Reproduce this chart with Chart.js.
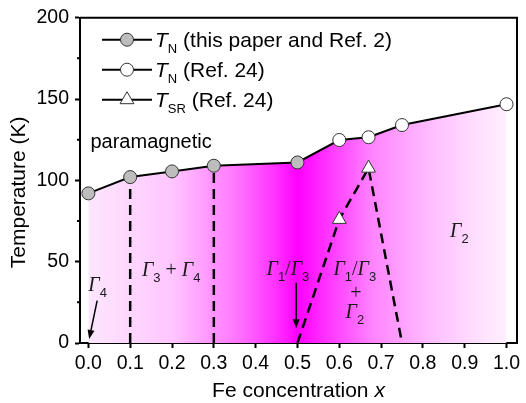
<!DOCTYPE html>
<html>
<head>
<meta charset="utf-8">
<script src="https://cdn.jsdelivr.net/npm/chart.js@4.4.0/dist/chart.umd.min.js"></script>
<style>
  html, body { margin: 0; padding: 0; background: #fff; }
</style>
</head>
<body>
<canvas id="phaseChart" width="526" height="403"></canvas>
<script>
// T_N from this work (and Ref. 2)
const xThisPaper = [0.0, 0.1, 0.2, 0.3, 0.5];
const tnThisPaper = [92, 102, 105.5, 109, 111];

// T_N from Ref. 24
const xRef24 = [0.6, 0.67, 0.75, 1.0];
const tnRef24 = [124.8, 126.5, 134, 146.8];

// spin-reorientation temperatures, Ref. 24
const xSR = [0.6, 0.67];
const tSR = [76, 107.5];

// dashed phase boundaries
const wall1X = [0.1, 0.1];
const wall1T = [0, 102];
const wall2X = [0.3, 0.3];
const wall2T = [0, 109];
const wedgeX = [0.5, 0.6, 0.67, 0.75];
const wedgeT = [0, 76, 107.5, 0];

const xTicks = [0.0, 0.1, 0.2, 0.3, 0.4, 0.5, 0.6, 0.7, 0.8, 0.9, 1.0];
const yTicks = [0, 50, 100, 150, 200];
const yMinorTicks = [25, 75, 125, 175];

const SANS = "'Liberation Sans', Arial, sans-serif";
const SERIF = "'Liberation Serif', 'Times New Roman', serif";

function pts(xs, ys) {
  return xs.map((x, i) => ({x: x, y: ys[i]}));
}

// whole paramagnetic boundary, used for the shaded region
const boundaryX = xThisPaper.concat(xRef24);
const boundaryT = tnThisPaper.concat(tnRef24);

function magentaFill(ctx) {
  const chart = ctx.chart;
  if (!chart.chartArea) return 'rgba(0,0,0,0)';
  const xs = chart.scales.x;
  const g = chart.ctx.createLinearGradient(xs.getPixelForValue(0), 0, xs.getPixelForValue(1), 0);
  g.addColorStop(0.00, '#fde6fd');
  g.addColorStop(0.20, '#ffc6ff');
  g.addColorStop(0.35, '#ff78ff');
  g.addColorStop(0.45, '#ff30ff');
  g.addColorStop(0.50, '#ff00ff');
  g.addColorStop(0.56, '#ff2cff');
  g.addColorStop(0.68, '#ff84ff');
  g.addColorStop(0.82, '#ffbeff');
  g.addColorStop(0.92, '#ffdcff');
  g.addColorStop(1.00, '#fff0ff');
  return g;
}

// mixed-font text runs: [text, font, dy]
function drawRuns(ctx, x, y, runs) {
  let cx = x;
  runs.forEach(r => {
    ctx.font = r[1];
    ctx.fillText(r[0], cx, y + (r[2] || 0));
    cx += ctx.measureText(r[0]).width;
  });
  return cx;
}

function runsWidth(ctx, runs) {
  let w = 0;
  runs.forEach(r => { ctx.font = r[1]; w += ctx.measureText(r[0]).width; });
  return w;
}

const G = 'italic 20px ' + SERIF;
const P = '20px ' + SERIF;
const SUB = '13px ' + SANS;

function gamma(n) {
  return [['\u0393', G, 0], [n, SUB, 6]];
}

// phase labels anchored at (x, T) = left baseline
const phaseLabels = [
  {x: 0.0, t: 32, runs: gamma('4')},
  {x: 0.128, t: 41.5, runs: gamma('3').concat([[' + ', P, 0]], gamma('4'))},
  {x: 0.426, t: 42, runs: gamma('1').concat([['/', P, 0]], gamma('3'))},
  {x: 0.586, t: 42, runs: gamma('1').concat([['/', P, 0]], gamma('3'))},
  {x: 0.626, t: 27, runs: [['+', P, 0]]},
  {x: 0.615, t: 15.3, runs: gamma('2')},
  {x: 0.865, t: 65.4, runs: gamma('2')}
];

const arrows = [
  {x0: 0.021, t0: 26, x1: 0.002, t1: 2.5},
  {x0: 0.497, t0: 37, x1: 0.497, t1: 9}
];

const legendRows = [
  {marker: 'circle', fill: '#bdbdbd', sub: 'N', text: ' (this paper and Ref. 2)'},
  {marker: 'circle', fill: '#ffffff', sub: 'N', text: ' (Ref. 24)'},
  {marker: 'triangle', fill: '#ffffff', sub: 'SR', text: ' (Ref. 24)'}
];

function drawMarker(ctx, kind, fill, x, y) {
  ctx.save();
  ctx.fillStyle = fill;
  ctx.strokeStyle = '#333';
  ctx.lineWidth = 1;
  ctx.beginPath();
  if (kind === 'circle') {
    ctx.arc(x, y, 6.5, 0, Math.PI * 2);
  } else {
    const r = 8;
    ctx.moveTo(x, y - r);
    ctx.lineTo(x + r * Math.sin(2 * Math.PI / 3), y - r * Math.cos(2 * Math.PI / 3));
    ctx.lineTo(x + r * Math.sin(4 * Math.PI / 3), y - r * Math.cos(4 * Math.PI / 3));
    ctx.closePath();
  }
  ctx.fill();
  ctx.stroke();
  ctx.restore();
}

const decorations = {
  id: 'decorations',
  afterDatasetsDraw(chart) {
    const {ctx, chartArea: a, scales: {x, y}} = chart;
    ctx.save();
    ctx.fillStyle = '#000';
    ctx.strokeStyle = '#000';

    // frame top and right
    ctx.lineWidth = 2;
    ctx.beginPath();
    ctx.moveTo(a.left, a.top);
    ctx.lineTo(a.right, a.top);
    ctx.lineTo(a.right, a.bottom);
    ctx.stroke();

    // minor y ticks
    ctx.beginPath();
    yMinorTicks.forEach(v => {
      const py = y.getPixelForValue(v);
      ctx.moveTo(a.left - 3, py);
      ctx.lineTo(a.left, py);
    });
    ctx.stroke();

    // phase names
    ctx.textBaseline = 'alphabetic';
    ctx.textAlign = 'left';
    ctx.fillStyle = '#1a1a1a';
    phaseLabels.forEach(l => {
      drawRuns(ctx, x.getPixelForValue(l.x), y.getPixelForValue(l.t), l.runs);
    });

    ctx.font = '20px ' + SANS;
    ctx.fillStyle = '#000';
    ctx.fillText('paramagnetic', x.getPixelForValue(0.005), y.getPixelForValue(120));

    // arrows
    ctx.lineWidth = 1.5;
    arrows.forEach(ar => {
      const x0 = x.getPixelForValue(ar.x0), y0 = y.getPixelForValue(ar.t0);
      const x1 = x.getPixelForValue(ar.x1), y1 = y.getPixelForValue(ar.t1);
      const ang = Math.atan2(y1 - y0, x1 - x0);
      const hl = 9, hw = 3.5;
      const bx = x1 - hl * Math.cos(ang), by = y1 - hl * Math.sin(ang);
      ctx.beginPath();
      ctx.moveTo(x0, y0);
      ctx.lineTo(bx, by);
      ctx.stroke();
      ctx.beginPath();
      ctx.moveTo(x1, y1);
      ctx.lineTo(bx + hw * Math.sin(ang), by - hw * Math.cos(ang));
      ctx.lineTo(bx - hw * Math.sin(ang), by + hw * Math.cos(ang));
      ctx.closePath();
      ctx.fill();
    });

    // legend
    legendRows.forEach((row, i) => {
      const cy = a.top + 22 + i * 30;
      const lx = a.left + 22;
      ctx.lineWidth = 2;
      ctx.beginPath();
      ctx.moveTo(lx, cy);
      ctx.lineTo(lx + 50, cy);
      ctx.stroke();
      drawMarker(ctx, row.marker, row.fill, lx + 25, cy);
      ctx.fillStyle = '#000';
      drawRuns(ctx, lx + 53, cy + 7, [
        ['T', 'italic 21px ' + SANS, 0],
        [row.sub, '13px ' + SANS, 6],
        [row.text, '21px ' + SANS, 0]
      ]);
    });

    // axis titles
    const xTitle = [['Fe concentration ', '21px ' + SANS, 0], ['x', 'italic 21px ' + SANS, 0]];
    const w = runsWidth(ctx, xTitle);
    drawRuns(ctx, (a.left + a.right) / 2 - w / 2, a.bottom + 54, xTitle);

    ctx.translate(19, (a.top + a.bottom) / 2 + 12);
    ctx.rotate(-Math.PI / 2);
    ctx.textAlign = 'center';
    ctx.textBaseline = 'middle';
    ctx.font = '21px ' + SANS;
    ctx.fillText('Temperature (K)', 0, 0);
    ctx.restore();
  }
};

const axisStyle = {
  grid: {drawOnChartArea: false, drawTicks: true, tickLength: 5, tickWidth: 2, tickColor: '#000'},
  border: {display: true, color: '#000', width: 2}
};

new Chart(document.getElementById('phaseChart'), {
  type: 'line',
  data: {
    datasets: [
      {
        data: pts(xThisPaper, tnThisPaper),
        showLine: false,
        pointStyle: 'circle',
        pointRadius: 6.5,
        pointBackgroundColor: '#bdbdbd',
        pointBorderColor: '#333',
        pointBorderWidth: 1,
        order: 0
      },
      {
        data: pts(xRef24, tnRef24),
        showLine: false,
        pointStyle: 'circle',
        pointRadius: 6.5,
        pointBackgroundColor: '#fff',
        pointBorderColor: '#333',
        pointBorderWidth: 1,
        order: 0
      },
      {
        data: pts(xSR, tSR),
        showLine: false,
        pointStyle: 'triangle',
        pointRadius: 8,
        pointBackgroundColor: '#fff',
        pointBorderColor: '#333',
        pointBorderWidth: 1,
        order: 0
      },
      {data: pts(wall1X, wall1T), borderColor: '#000', borderWidth: 2.5, borderDash: [10, 6], pointRadius: 0, order: 1},
      {data: pts(wall2X, wall2T), borderColor: '#000', borderWidth: 2.5, borderDash: [10, 6], pointRadius: 0, order: 1},
      {data: pts(wedgeX, wedgeT), borderColor: '#000', borderWidth: 2.5, borderDash: [10, 6], pointRadius: 0, order: 1},
      {
        data: pts(boundaryX, boundaryT),
        borderColor: '#000',
        borderWidth: 2,
        pointRadius: 0,
        fill: 'origin',
        backgroundColor: magentaFill,
        order: 2
      }
    ]
  },
  options: {
    responsive: false,
    animation: false,
    events: [],
    layout: {padding: {top: 16, right: 5, left: 0, bottom: 0}},
    elements: {line: {tension: 0}},
    plugins: {
      legend: {display: false},
      tooltip: {enabled: false},
      filler: {drawTime: 'beforeDatasetsDraw'}
    },
    scales: {
      x: {
        type: 'linear',
        min: -0.02,
        max: 1.025,
        afterFit: s => { s.height = 60; },
        afterBuildTicks: s => { s.ticks = xTicks.map(v => ({value: v})); },
        ticks: {
          callback: v => v.toFixed(1),
          font: {family: SANS, size: 19.5},
          color: '#000',
          padding: 4,
          maxRotation: 0,
          autoSkip: false
        },
        ...axisStyle
      },
      y: {
        min: 0,
        max: 200,
        afterFit: s => { s.width = 80; },
        afterBuildTicks: s => { s.ticks = yTicks.map(v => ({value: v})); },
        ticks: {
          font: {family: SANS, size: 19.5},
          color: '#000',
          padding: 6
        },
        ...axisStyle
      }
    }
  },
  plugins: [decorations]
});
</script>
</body>
</html>
